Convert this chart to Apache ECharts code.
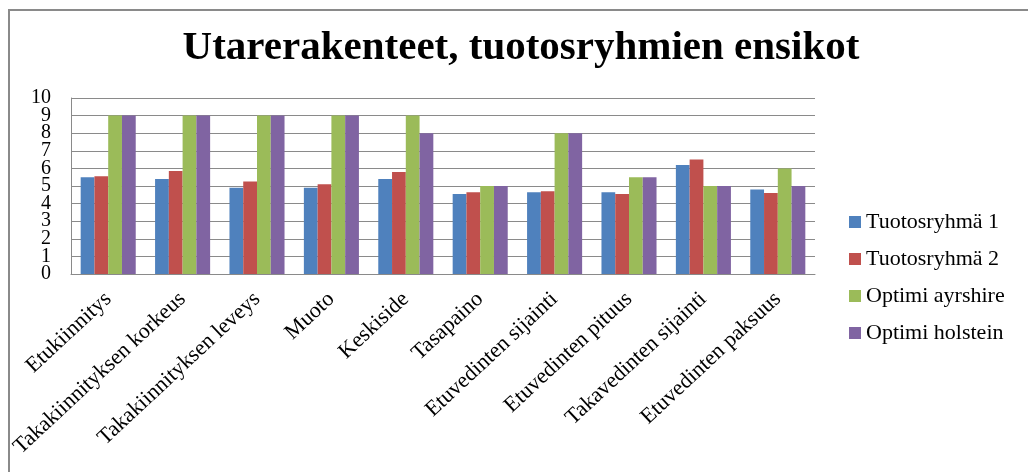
<!DOCTYPE html>
<html>
<head>
<meta charset="utf-8">
<script src="https://cdn.jsdelivr.net/npm/echarts@6/dist/echarts.min.js"></script>
<style>
  html, body { margin: 0; padding: 0; background: #fff; }
  #chart { width: 1028px; height: 472px; }
</style>
</head>
<body>
<div id="chart"></div>
<script>
// categories and series values
const categories = [
  'Etukiinnitys', 'Takakiinnityksen korkeus', 'Takakiinnityksen leveys', 'Muoto',
  'Keskiside', 'Tasapaino', 'Etuvedinten sijainti', 'Etuvedinten pituus',
  'Takavedinten sijainti', 'Etuvedinten paksuus'
];
const tuotosryhma1 = [5.5, 5.4, 4.9, 4.9, 5.4, 4.55, 4.65, 4.65, 6.2, 4.8];
const tuotosryhma2 = [5.55, 5.85, 5.25, 5.1, 5.8, 4.65, 4.7, 4.55, 6.5, 4.6];
const optimiAyrshire = [9, 9, 9, 9, 9, 5, 8, 5.5, 5, 6];
const optimiHolstein = [9, 9, 9, 9, 8, 5, 8, 5.5, 5, 5];

const seriesNames = ['Tuotosryhmä 1', 'Tuotosryhmä 2', 'Optimi ayrshire', 'Optimi holstein'];
const seriesData = [tuotosryhma1, tuotosryhma2, optimiAyrshire, optimiHolstein];
const colors = ['#4F81BD', '#C0504D', '#9BBB59', '#8064A2'];

const yMin = 0;
const yMax = 10;
const yStep = 1;

const font = '"Liberation Serif", "Times New Roman", serif';
const yLabelStyle = { fontFamily: font, fontSize: 20, color: '#000', margin: 20 };

const chart = echarts.init(document.getElementById('chart'));
chart.setOption({
  animation: false,
  color: colors,
  textStyle: { fontFamily: font, color: '#000' },
  graphic: [{
    type: 'rect',
    shape: { x: 9, y: 10, width: 1200, height: 600 },
    style: { fill: 'none', stroke: '#8a8a8a', lineWidth: 2 }
  }],
  title: {
    text: 'Utarerakenteet, tuotosryhmien ensikot',
    left: 516,
    textAlign: 'center',
    top: 23,
    textStyle: { fontFamily: font, fontSize: 41, fontWeight: 'bold', color: '#000' }
  },
  legend: {
    orient: 'vertical',
    left: 844,
    top: 206,
    itemWidth: 12,
    itemHeight: 12,
    itemGap: 15,
    icon: 'rect',
    textStyle: { fontFamily: font, fontSize: 22, color: '#000' },
    data: seriesNames
  },
  grid: { left: 71, right: 213, top: 98, bottom: 198 },
  xAxis: {
    type: 'category',
    data: categories,
    axisTick: { show: false },
    axisLine: { lineStyle: { color: '#8a8a8a' } },
    axisLabel: {
      interval: 0,
      rotate: 43,
      margin: 22,
      fontFamily: font,
      fontSize: 22,
      color: '#000'
    }
  },
  yAxis: [{
    // main axis: lines, grid and the inner labels
    type: 'value',
    min: yMin,
    max: yMax,
    interval: yStep,
    axisLine: { show: true, lineStyle: { color: '#8a8a8a' } },
    axisTick: { show: false },
    splitLine: { lineStyle: { color: '#8a8a8a', width: 1 } },
    axisLabel: Object.assign({}, yLabelStyle)
  }, {
    // second axis on the same side only for the end labels 0 and 10
    type: 'value',
    position: 'left',
    min: yMin,
    max: yMax,
    interval: yStep,
    axisLine: { show: false },
    axisTick: { show: false },
    splitLine: { show: false },
    axisLabel: Object.assign({}, yLabelStyle, {
      showMinLabel: true,
      showMaxLabel: true,
      formatter: v => (v === yMin || v === yMax) ? String(v) : ''
    })
  }],
  series: seriesNames.map((name, i) => ({
    name: name,
    type: 'bar',
    data: seriesData[i],
    barGap: '0%',
    barCategoryGap: '26%'
  }))
});
</script>
</body>
</html>
